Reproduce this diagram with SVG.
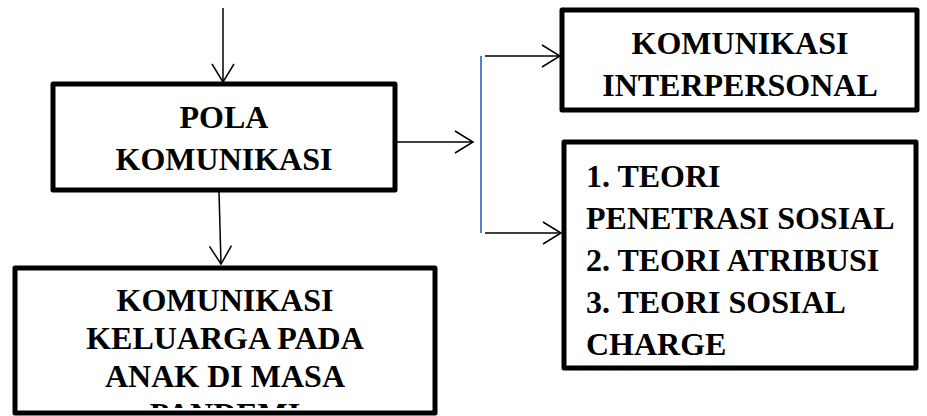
<svg xmlns="http://www.w3.org/2000/svg" width="927" height="416" viewBox="0 0 927 416">
<style>
.box{fill:#fff;stroke:#000;stroke-width:5;stroke-linejoin:round}
.t{font-family:"Liberation Serif","Times New Roman",serif;font-weight:bold;font-size:32px;fill:#000}
.c{text-anchor:middle}
.ln{stroke:#000;stroke-width:1.5;fill:none}
.blue{stroke:#4472C4;stroke-width:1.8;fill:none}
</style>
<defs>
<marker id="ah" markerUnits="userSpaceOnUse" markerWidth="24" markerHeight="26" refX="19" refY="12" orient="auto">
<path d="M1,1 L19,12 L1,23" fill="none" stroke="#000" stroke-width="1.5"/>
</marker>
<clipPath id="clipBottom"><rect x="15" y="270" width="420" height="138"/></clipPath>
</defs>
<g id="connectors">
<line class="ln" x1="223" y1="8" x2="223" y2="82" marker-end="url(#ah)"/>
<line class="ln" x1="397" y1="142" x2="473" y2="142" marker-end="url(#ah)"/>
<line class="ln" x1="219" y1="192" x2="221" y2="264" marker-end="url(#ah)"/>
<line class="blue" x1="481" y1="56" x2="481" y2="233"/>
<line class="ln" x1="485" y1="56" x2="560" y2="56" marker-end="url(#ah)"/>
<line class="ln" x1="485" y1="233" x2="561" y2="233" marker-end="url(#ah)"/>
</g>
<g id="pola">
<rect class="box" x="53" y="84" width="342" height="106"/>
<text class="t c" x="224" y="128">POLA</text>
<text class="t c" x="224" y="170">KOMUNIKASI</text>
</g>
<g id="interpersonal">
<rect class="box" x="562" y="10" width="355" height="100"/>
<text class="t c" x="740" y="54">KOMUNIKASI</text>
<text class="t c" x="740" y="96">INTERPERSONAL</text>
</g>
<g id="teori">
<rect class="box" x="564" y="142" width="352" height="226"/>
<text class="t" x="586" y="187">1. TEORI</text>
<text class="t" x="586" y="229">PENETRASI SOSIAL</text>
<text class="t" x="586" y="271">2. TEORI ATRIBUSI</text>
<text class="t" x="586" y="313">3. TEORI SOSIAL</text>
<text class="t" x="586" y="355">CHARGE</text>
</g>
<g id="keluarga">
<rect class="box" x="15" y="268" width="420" height="145"/>
<g clip-path="url(#clipBottom)">
<text class="t c" x="225" y="311">KOMUNIKASI</text>
<text class="t c" x="225" y="349">KELUARGA PADA</text>
<text class="t c" x="225" y="387">ANAK DI MASA</text>
<text class="t c" x="225" y="425">PANDEMI</text>
</g>
</g>
</svg>
